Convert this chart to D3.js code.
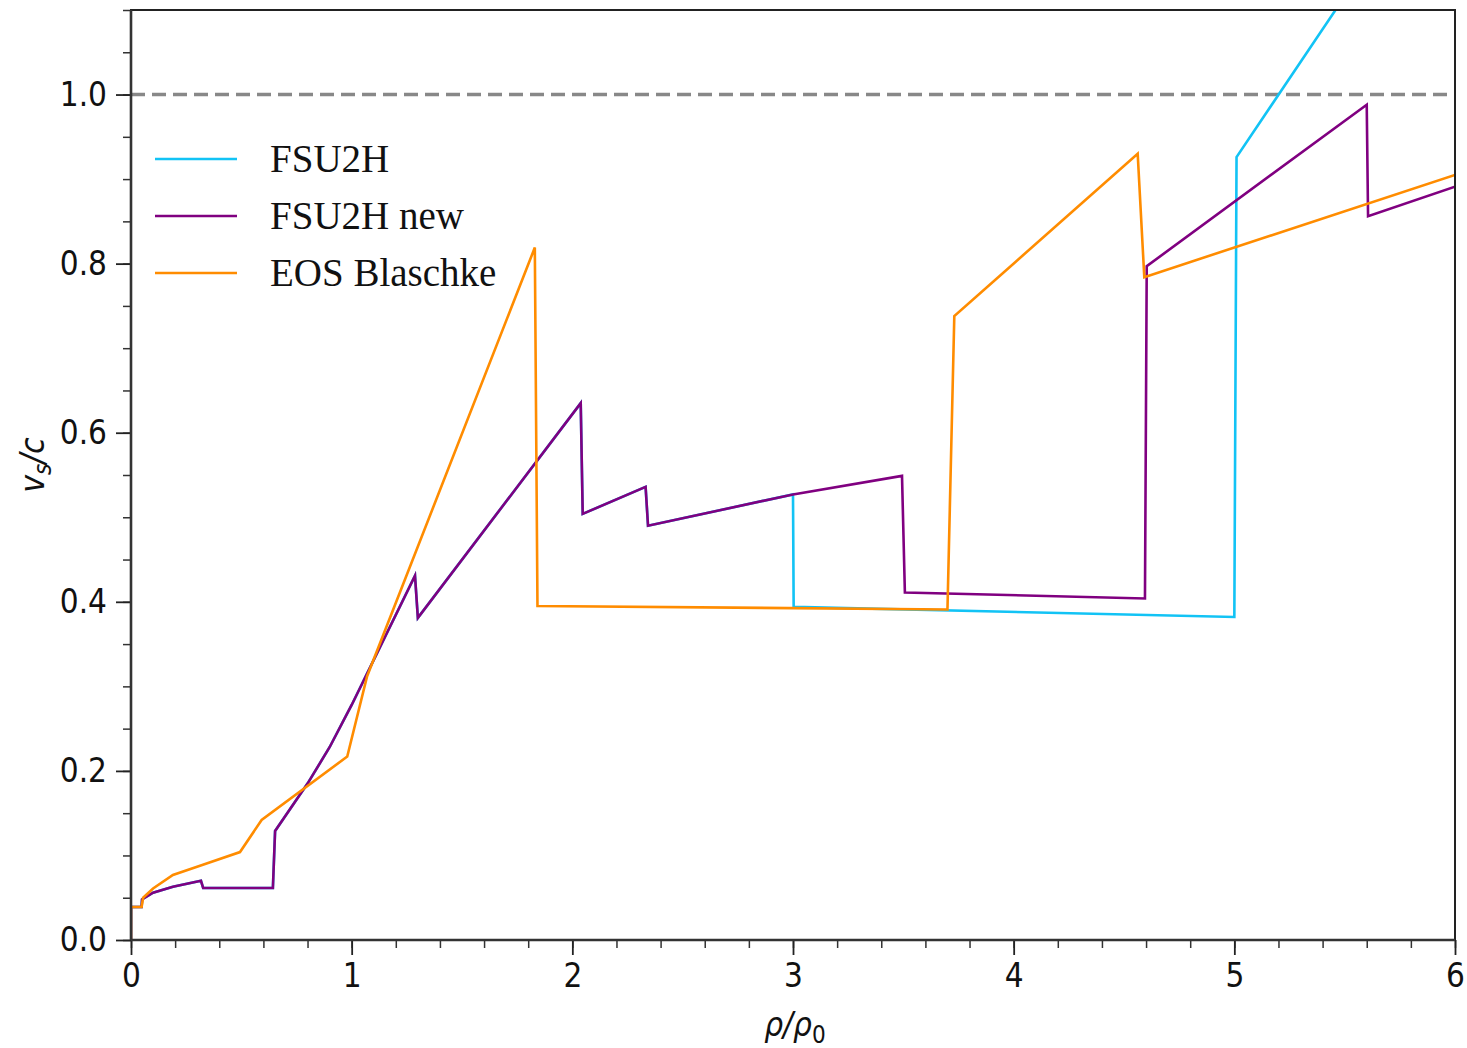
<!DOCTYPE html>
<meta charset="utf-8">
<style>
  body { margin: 0; background: #fff; }
</style>
<body>
<script src="https://d3js.org/d3.v7.min.js"></script>
<script>
  // FSU2H (blue) - below x=3 it coincides with FSU2H new
  var fsuX = [0, 0, 0.048, 0.05, 0.1, 0.19, 0.317, 0.327, 0.643, 0.653, 0.8, 0.9, 1.0, 1.287, 1.30, 2.038, 2.047, 2.332, 2.343, 3.0, 3.003, 5.0, 5.01, 6.0];
  var fsuY = [0, 0.039, 0.039, 0.048, 0.056, 0.063, 0.070, 0.0615, 0.0615, 0.129, 0.185, 0.228, 0.278, 0.431, 0.381, 0.635, 0.504, 0.536, 0.49, 0.527, 0.394, 0.382, 0.926, 1.31];

  // FSU2H new (purple)
  var newX = [0, 0, 0.048, 0.05, 0.1, 0.19, 0.317, 0.327, 0.643, 0.653, 0.8, 0.9, 1.0, 1.287, 1.30, 2.038, 2.047, 2.332, 2.343, 3.0, 3.494, 3.507, 4.595, 4.603, 5.6, 5.606, 6.0];
  var newY = [0, 0.039, 0.039, 0.048, 0.056, 0.063, 0.070, 0.0615, 0.0615, 0.129, 0.185, 0.228, 0.278, 0.431, 0.381, 0.635, 0.504, 0.536, 0.49, 0.527, 0.549, 0.411, 0.404, 0.797, 0.988, 0.856, 0.891];

  // EOS Blaschke (orange)
  var blX = [0, 0, 0.048, 0.055, 0.1, 0.19, 0.326, 0.494, 0.592, 0.98, 1.07, 1.83, 1.842, 3.70, 3.731, 4.562, 4.592, 6.0];
  var blY = [0, 0.039, 0.039, 0.05, 0.061, 0.077, 0.089, 0.104, 0.142, 0.217, 0.312, 0.819, 0.395, 0.391, 0.738, 0.930, 0.784, 0.905];

  var seriesNames = ["FSU2H", "FSU2H new", "EOS Blaschke"];
  var seriesColors = ["#12c3f5", "#800080", "#ff8c00"];
  var xTicks = [0, 1, 2, 3, 4, 5, 6];
  var yTicks = [0.0, 0.2, 0.4, 0.6, 0.8, 1.0];

  var sans = "'DejaVu Sans Condensed', 'DejaVu Sans', sans-serif";

  var svg = d3.select("body").append("svg")
      .attr("width", 1467)
      .attr("height", 1048);

  var margin = {top: 10, right: 12, bottom: 108, left: 131},
      width = 1467 - margin.left - margin.right,
      height = 1048 - margin.top - margin.bottom,
      g = svg.append("g").attr("transform", "translate(" + margin.left + "," + margin.top + ")");

  var x = d3.scaleLinear().domain([0, 6]).range([0, width]);
  var y = d3.scaleLinear().domain([0, 1.1]).range([height, 0]);

  svg.append("defs").append("clipPath").attr("id", "clip")
    .append("rect").attr("width", width).attr("height", height);

  // minor ticks
  g.append("g")
      .attr("transform", "translate(0," + height + ")")
      .call(d3.axisBottom(x).tickValues(d3.range(0, 6.01, 0.2)).tickSize(8).tickFormat(""))
      .call(function(a) { a.select(".domain").remove(); a.selectAll("line").attr("stroke", "#333").attr("stroke-width", 1.5); });
  g.append("g")
      .call(d3.axisLeft(y).tickValues(d3.range(0, 1.101, 0.05)).tickSize(8).tickFormat(""))
      .call(function(a) { a.select(".domain").remove(); a.selectAll("line").attr("stroke", "#333").attr("stroke-width", 1.5); });

  // major ticks
  g.append("g")
      .attr("transform", "translate(0," + height + ")")
      .call(d3.axisBottom(x).tickValues(xTicks).tickSize(15).tickPadding(9).tickFormat(d3.format("d")))
      .call(function(a) {
        a.select(".domain").remove();
        a.selectAll("line").attr("stroke", "#222").attr("stroke-width", 1.8);
        a.selectAll("text").style("font-size", "33px").style("font-family", sans).attr("fill", "#111");
      });
  g.append("g")
      .call(d3.axisLeft(y).tickValues(yTicks).tickSize(15).tickPadding(9).tickFormat(d3.format(".1f")))
      .call(function(a) {
        a.select(".domain").remove();
        a.selectAll("line").attr("stroke", "#222").attr("stroke-width", 1.8);
        a.selectAll("text").style("font-size", "33px").style("font-family", sans).attr("fill", "#111");
      });

  // dashed v = c line
  g.append("line")
      .attr("x1", 0).attr("x2", width)
      .attr("y1", y(1)).attr("y2", y(1))
      .attr("stroke", "#888").attr("stroke-width", 3.5)
      .attr("stroke-dasharray", "14,7");

  var line = d3.line()
      .x(function(d) { return x(d[0]); })
      .y(function(d) { return y(d[1]); });

  var data = [d3.zip(fsuX, fsuY), d3.zip(newX, newY), d3.zip(blX, blY)];

  g.append("g").attr("clip-path", "url(#clip)")
    .selectAll("path")
    .data(data)
    .enter().append("path")
      .attr("d", line)
      .attr("fill", "none")
      .attr("stroke", function(d, i) { return seriesColors[i]; })
      .attr("stroke-width", 2.6)
      .attr("stroke-linejoin", "miter");

  // frame
  g.append("rect")
      .attr("width", width).attr("height", height)
      .attr("fill", "none").attr("stroke", "#222").attr("stroke-width", 2);
  g.append("line").attr("x1", 0).attr("x2", 0).attr("y1", 0).attr("y2", height)
      .attr("stroke", "#333").attr("stroke-width", 2.6);
  g.append("line").attr("x1", 0).attr("x2", width).attr("y1", height).attr("y2", height)
      .attr("stroke", "#333").attr("stroke-width", 2.6);

  // legend
  var legend = g.append("g").attr("transform", "translate(24,149)");
  var item = legend.selectAll("g").data(seriesNames).enter().append("g")
      .attr("transform", function(d, i) { return "translate(0," + (i * 57) + ")"; });
  item.append("line")
      .attr("x1", 0).attr("x2", 82)
      .attr("stroke", function(d, i) { return seriesColors[i]; })
      .attr("stroke-width", 2.6);
  item.append("text")
      .attr("x", 115).attr("y", 13)
      .style("font-family", "'Liberation Serif', 'DejaVu Serif', serif")
      .style("font-size", "39px")
      .attr("fill", "#111")
      .text(function(d) { return d; });

  // axis labels
  var xl = svg.append("text")
      .attr("x", margin.left + width / 2 + 2).attr("y", 1036)
      .attr("text-anchor", "middle")
      .style("font-family", sans)
      .style("font-size", "33px")
      .attr("fill", "#111");
  xl.append("tspan").attr("font-style", "italic").text("ρ/ρ");
  xl.append("tspan").style("font-size", "24px").attr("dy", 7).text("0");

  var yl = svg.append("text")
      .attr("transform", "translate(44,465) rotate(-90)")
      .attr("text-anchor", "middle")
      .style("font-family", sans)
      .style("font-size", "33px")
      .attr("fill", "#111");
  yl.append("tspan").attr("font-style", "italic").text("v");
  yl.append("tspan").attr("font-style", "italic").style("font-size", "24px").attr("dy", 7).text("s");
  yl.append("tspan").attr("font-style", "italic").attr("dy", -7).text("/c");
</script>
</body>
